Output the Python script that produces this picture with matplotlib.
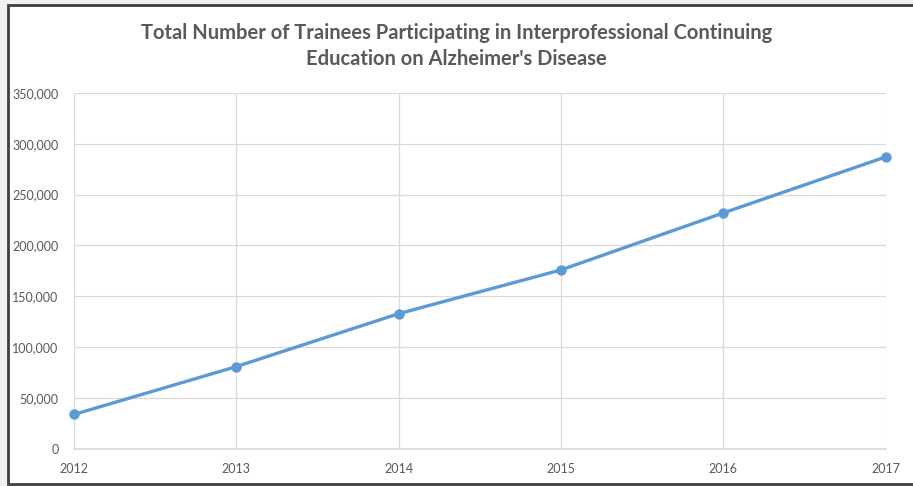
import matplotlib
matplotlib.use('Agg')
import matplotlib.pyplot as plt
from matplotlib.patches import Rectangle
from matplotlib.ticker import FuncFormatter

plt.rcParams['font.family'] = ['Lato', 'DejaVu Sans']

years = [2012, 2013, 2014, 2015, 2016, 2017]
trainees = [34000, 81000, 133000, 176000, 232000, 287000]
title = "Total Number of Trainees Participating in Interprofessional Continuing\nEducation on Alzheimer's Disease"

text_color = '#595959'
grid_color = '#d9d9d9'
line_color = '#5b9bd5'

fig = plt.figure(figsize=(9.13, 4.86), dpi=100, facecolor='#f0f0f0')
# white chart area with dark frame (right edge runs off the picture)
fig.patches.append(Rectangle((0.009, 0.005), 1.05, 0.985, transform=fig.transFigure,
                             facecolor='white', edgecolor='#404040', linewidth=2.0, zorder=-10))

ax = fig.add_axes([0.081, 0.076, 0.889, 0.733])
ax.set_zorder(1)
ax.plot(years, trainees, color=line_color, linewidth=2.4, marker='o', markersize=6.5, zorder=3,
        clip_on=False)

ax.set_xlim(2012, 2017)
ax.set_ylim(0, 350000)
ax.set_yticks(range(0, 350001, 50000))
ax.set_xticks(years)
ax.yaxis.set_major_formatter(FuncFormatter(lambda v, p: f'{int(v):,}'))
ax.grid(True, color=grid_color, linewidth=0.9)
ax.set_axisbelow(True)
for s in ['top', 'right', 'left']:
    ax.spines[s].set_visible(False)
ax.spines['bottom'].set_color(grid_color)
ax.spines['bottom'].set_linewidth(1.2)
ax.tick_params(length=0, labelsize=9, labelcolor=text_color)
ax.tick_params(axis='y', pad=11)
ax.tick_params(axis='x', pad=10)
ax.set_facecolor('white')

fig.text(0.5, 0.905, title, ha='center', va='center', fontsize=14.5, fontweight='bold',
         color=text_color, linespacing=1.4)

fig.savefig('out.png', dpi=100, facecolor=fig.get_facecolor())
